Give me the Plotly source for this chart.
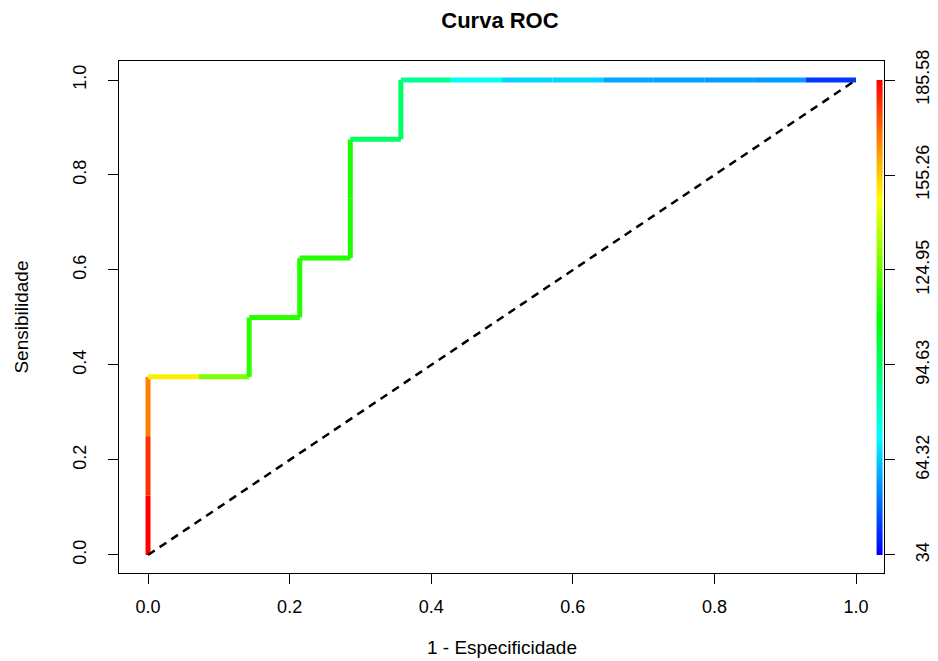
import numpy as np
import plotly.graph_objects as go
from plotly.colors import sample_colorscale

# ROC points (1 - specificity, sensitivity) and cutoff of each point
fpr = [0.0, 0.0, 0.0, 0.0, 0.0714, 0.1429, 0.1429, 0.2143, 0.2143, 0.2857, 0.2857, 0.2857,
       0.3571, 0.3571, 0.4286, 0.5, 0.5714, 0.6429, 0.7143, 0.7857, 0.8571, 0.9286, 1.0]
tpr = [0.0, 0.125, 0.25, 0.375, 0.375, 0.375, 0.5, 0.5, 0.625, 0.625, 0.75, 0.875,
       0.875, 1.0, 1.0, 1.0, 1.0, 1.0, 1.0, 1.0, 1.0, 1.0, 1.0]
cutoff = [np.inf, 185.58, 178.0, 166.6, 150.0, 128.5, 116.0, 116.0, 115.0, 115.0, 114.0, 114.0,
          94.6, 94.6, 87.0, 74.0, 65.5, 65.5, 58.7, 58.0, 57.5, 57.0, 42.0]

cb_ticks = [34, 64.32, 94.63, 124.95, 155.26, 185.58]
cb_labels = ["34", "64.32", "94.63", "124.95", "155.26", "185.58"]
x_ticks = [0.0, 0.2, 0.4, 0.6, 0.8, 1.0]
y_ticks = [0.0, 0.2, 0.4, 0.6, 0.8, 1.0]

cmin, cmax = cb_ticks[0], cb_ticks[-1]
rainbow = [[0.0, "#0000FF"], [0.25, "#00FFFF"], [0.5, "#00FF00"], [0.75, "#FFFF00"], [1.0, "#FF0000"]]

FONT = "Liberation Sans, Arial, sans-serif"
fig = go.Figure()

# colored ROC segments
for i in range(len(fpr) - 1):
    t = (min(cutoff[i + 1], cmax) - cmin) / (cmax - cmin)
    col = sample_colorscale(rainbow, [t])[0]
    fig.add_trace(go.Scatter(x=[fpr[i], fpr[i + 1]], y=[tpr[i], tpr[i + 1]], mode="lines",
                             line=dict(color=col, width=5), showlegend=False, hoverinfo="skip"))

# diagonal reference
fig.add_trace(go.Scatter(x=[0, 1], y=[0, 1], mode="lines",
                         line=dict(color="black", width=2.5, dash="8px,6px"),
                         showlegend=False, hoverinfo="skip"))

# color bar (legend of cutoffs) drawn inside the plot at the right
n = 256
grad = np.linspace(cmin, cmax, n)
yedges = np.linspace(0, 1, n + 1)
fig.add_trace(go.Heatmap(x=[1.029, 1.038], y=yedges, z=[[v] for v in grad],
                         colorscale=rainbow, zmin=cmin, zmax=cmax, showscale=False,
                         hoverinfo="skip"))

# dummy trace for the right axis
fig.add_trace(go.Scatter(x=[None], y=[None], yaxis="y2", showlegend=False))

cb_pos = [(v - cmin) / (cmax - cmin) for v in cb_ticks]

axis_common = dict(showgrid=False, zeroline=False, showline=True, linecolor="black", linewidth=1,
                   ticks="outside", ticklen=10, tickcolor="black", automargin=False,
                   tickfont=dict(family=FONT, size=18, color="black"))

fig.update_layout(
    width=938, height=661,
    margin=dict(l=119, r=54, t=61, b=88),
    paper_bgcolor="white", plot_bgcolor="white",
    title=dict(text="<b>Curva ROC</b>", x=0.533, xanchor="center", y=0.97, yanchor="middle",
               font=dict(family=FONT, size=22, color="black")),
    xaxis=dict(range=[-0.041, 1.0395], tickvals=x_ticks, ticktext=[f"{v:.1f}" for v in x_ticks],
               mirror=True, ticklabelstandoff=7, **axis_common),
    yaxis=dict(range=[-0.038, 1.04], tickvals=y_ticks, ticktext=[f"{v:.1f}" for v in y_ticks],
               mirror=True, tickangle=-90, ticklabelstandoff=15, **axis_common),
    yaxis2=dict(range=[-0.038, 1.04], overlaying="y", side="right", anchor="x",
                tickvals=cb_pos, ticktext=cb_labels, tickangle=-90, ticklabelstandoff=12,
                **axis_common),
    annotations=[
        dict(text="1 - Especificidade", x=0.5, y=-0.17, xref="paper", yref="paper",
             showarrow=False, font=dict(family=FONT, size=19, color="black")),
        dict(text="Sensibilidade", x=-0.145, y=0.5, xref="paper", yref="paper", textangle=-90,
             showarrow=False, font=dict(family=FONT, size=19, color="black")),
    ],
)

fig.write_html("out.html")
